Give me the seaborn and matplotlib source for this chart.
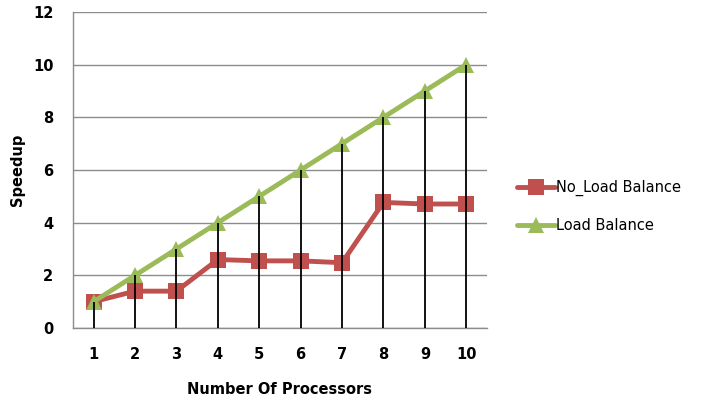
import matplotlib
matplotlib.use("Agg")
import matplotlib.pyplot as plt
import seaborn as sns
import pandas as pd
import numpy as np

processors = [1, 2, 3, 4, 5, 6, 7, 8, 9, 10]
no_load_balance = [1.0, 1.4, 1.4, 2.6, 2.55, 2.55, 2.48, 4.77, 4.71, 4.71]
load_balance = [1, 2, 3, 4, 5, 6, 7, 8, 9, 10]
series_names = ["No_Load Balance", "Load Balance"]
y_ticks = [0, 2, 4, 6, 8, 10, 12]

sns.set_theme(style="white")
plt.rcParams['font.family'] = ['DejaVu Sans']
plt.rcParams['text.color'] = 'black'
plt.rcParams['axes.labelcolor'] = 'black'
plt.rcParams['xtick.color'] = 'black'
plt.rcParams['ytick.color'] = 'black'

df = pd.DataFrame({
    "Processors": processors * 2,
    "Speedup": no_load_balance + load_balance,
    "Series": [series_names[0]] * len(processors) + [series_names[1]] * len(processors),
})

fig = plt.figure(figsize=(7.15, 4.01), dpi=100)
ax = fig.add_axes([0.102, 0.182, 0.579, 0.788])

palette = {series_names[0]: "#C0504D", series_names[1]: "#9BBB59"}
markers = {series_names[0]: "s", series_names[1]: "^"}
sns.lineplot(data=df, x="Processors", y="Speedup", hue="Series", style="Series",
             markers=markers, dashes=False, palette=palette, linewidth=3.5,
             markersize=11, markeredgewidth=0, ax=ax, zorder=3)

# drop lines
tops = np.maximum(no_load_balance, load_balance)
ax.vlines(processors, 0, tops, colors="black", linewidth=1.3, zorder=5)

ax.set_xlim(0.5, 10.5)
ax.set_ylim(0, 12)
ax.set_yticks(y_ticks)
ax.set_xticks(processors)
ax.yaxis.grid(True, color="#8c8c8c", linewidth=1)
ax.set_axisbelow(True)
for s in ["top", "right"]:
    ax.spines[s].set_visible(False)
for s in ["left", "bottom"]:
    ax.spines[s].set_color("#8c8c8c")
    ax.spines[s].set_linewidth(1)
ax.tick_params(axis="y", length=6, color="#8c8c8c", width=1, pad=8, labelcolor="black")
ax.tick_params(axis="x", length=0, pad=14, labelcolor="black")
for lbl in ax.get_xticklabels() + ax.get_yticklabels():
    lbl.set_fontweight("bold")
    lbl.set_fontsize(10.5)
ax.set_xlabel("Number Of Processors", fontweight="bold", fontsize=10.5, labelpad=14, color="black")
ax.set_ylabel("Speedup", fontweight="bold", fontsize=10.5, labelpad=6, color="black")

leg = ax.legend(loc="center left", bbox_to_anchor=(1.04, 0.385), frameon=False,
                fontsize=10.5, handlelength=2.6, handletextpad=0.1, labelspacing=1.5)
for t in leg.get_texts():
    t.set_color("black")

fig.savefig("out.png", dpi=100)
